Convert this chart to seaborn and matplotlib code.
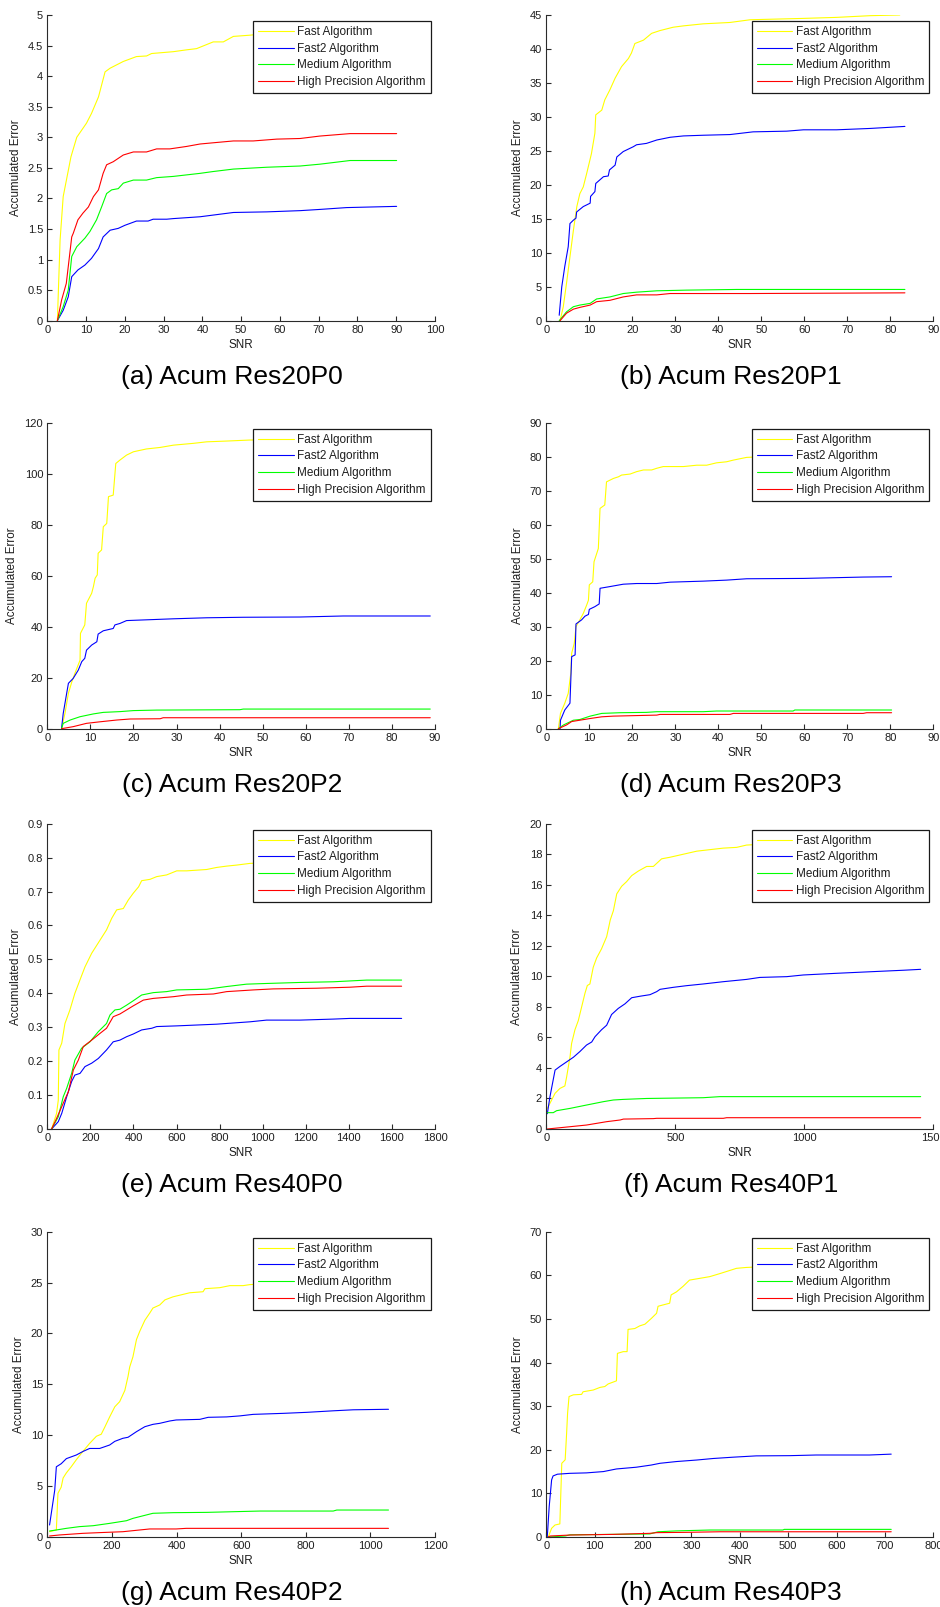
import matplotlib
matplotlib.use("Agg")
import matplotlib.pyplot as plt
import seaborn as sns

# ---------------------------------------------------------------- data
SERIES_NAMES = ["Fast Algorithm", "Fast2 Algorithm", "Medium Algorithm",
                "High Precision Algorithm"]
SERIES_COLORS = ["#ffff00", "#0000ff", "#00ff00", "#ff0000"]

CAPTIONS = ["(a) Acum Res20P0", "(b) Acum Res20P1", "(c) Acum Res20P2",
            "(d) Acum Res20P3", "(e) Acum Res40P0", "(f) Acum Res40P1",
            "(g) Acum Res40P2", "(h) Acum Res40P3"]

# (a) Res20P0
A_XTICKS = [0, 10, 20, 30, 40, 50, 60, 70, 80, 90, 100]
A_YTICKS = [0, 0.5, 1, 1.5, 2, 2.5, 3, 3.5, 4, 4.5, 5]
A_FAST_X = [2.6, 3.3, 4.1, 6.1, 7.6, 10.1, 11.4, 13.2, 14.9, 16.2, 19.6, 23.0, 25.6, 26.9,
            32.5, 35.9, 38.5, 42.8, 45.4, 48.0, 52.3, 60.0, 70.0, 80.0, 90.1]
A_FAST_Y = [0.0, 1.32, 2.03, 2.68, 3.0, 3.23, 3.39, 3.66, 4.07, 4.13, 4.24, 4.32, 4.33, 4.37,
            4.40, 4.43, 4.45, 4.56, 4.56, 4.65, 4.67, 4.72, 4.78, 4.84, 4.88]
A_FAST2_X = [2.6, 4.1, 5.4, 6.3, 7.9, 9.7, 11.4, 13.2, 14.4, 16.2, 18.3, 20.0, 23.0, 26.0,
             27.3, 30.8, 32.5, 39.4, 48.0, 56.6, 65.2, 70.3, 77.2, 90.1]
A_FAST2_Y = [0.0, 0.17, 0.39, 0.72, 0.83, 0.91, 1.02, 1.18, 1.37, 1.48, 1.51, 1.56, 1.63, 1.63,
             1.66, 1.66, 1.67, 1.70, 1.77, 1.78, 1.80, 1.82, 1.85, 1.87]
A_MED_X = [2.6, 4.1, 5.4, 6.3, 7.6, 9.7, 11.0, 12.7, 14.0, 15.3, 16.6, 18.3, 19.6, 22.2, 25.6,
           28.2, 32.5, 39.4, 42.8, 48.0, 56.6, 65.2, 70.3, 78.1, 90.1]
A_MED_Y = [0.0, 0.23, 0.5, 1.05, 1.21, 1.35, 1.46, 1.65, 1.86, 2.08, 2.14, 2.16, 2.25, 2.30, 2.30,
           2.34, 2.36, 2.41, 2.44, 2.48, 2.51, 2.53, 2.56, 2.62, 2.62]
A_HIGH_X = [2.6, 3.7, 4.9, 6.3, 6.7, 7.9, 9.2, 10.6, 11.9, 13.2, 14.4, 15.3, 17.0, 19.6, 22.2,
            25.6, 28.2, 31.6, 35.9, 39.4, 42.8, 48.0, 53.1, 59.2, 65.2, 70.3, 78.1, 90.1]
A_HIGH_Y = [0.0, 0.34, 0.61, 1.37, 1.43, 1.65, 1.76, 1.86, 2.03, 2.14, 2.41, 2.55, 2.60, 2.71,
            2.76, 2.76, 2.81, 2.81, 2.85, 2.89, 2.91, 2.94, 2.94, 2.97, 2.98, 3.02, 3.06, 3.06]

# (b) Res20P1
B_XTICKS = [0, 10, 20, 30, 40, 50, 60, 70, 80, 90]
B_YTICKS = [0, 5, 10, 15, 20, 25, 30, 35, 40, 45]
B_FAST_X = [3.2, 3.95, 4.7, 5.5, 6.3, 7.1, 7.8, 8.6, 9.4, 10.5, 11.3, 11.5, 12.9, 13.6, 14.8,
            16.0, 17.5, 19.1, 19.8, 20.6, 22.6, 24.5, 26.4, 29.5, 31.9, 36.5, 42.7, 47.4,
            59.8, 67.5, 75.3, 82.2]
B_FAST_Y = [0.0, 2.06, 5.5, 9.4, 13.3, 16.8, 18.7, 19.7, 21.7, 24.6, 27.6, 30.3, 31.0, 32.5,
            34.0, 35.7, 37.4, 38.6, 39.4, 40.8, 41.3, 42.3, 42.7, 43.2, 43.4, 43.7, 43.9, 44.3,
            44.5, 44.65, 44.9, 45.0]
B_FAST2_X = [3.0, 3.6, 4.3, 5.1, 5.5, 6.3, 6.9, 7.05, 8.6, 10.2, 10.3, 11.3, 11.5, 13.3, 14.4,
             14.7, 16.0, 16.4, 17.9, 20.2, 21.0, 23.3, 25.7, 28.8, 31.9, 36.5, 42.7, 48.1,
             55.9, 59.8, 67.5, 75.3, 83.4]
B_FAST2_Y = [0.8, 5.0, 8.0, 10.9, 14.3, 14.8, 15.1, 16.0, 16.8, 17.3, 18.3, 19.0, 20.2, 21.2,
             21.3, 22.2, 22.9, 24.1, 24.9, 25.6, 25.9, 26.1, 26.6, 27.0, 27.2, 27.3, 27.4, 27.8,
             27.9, 28.1, 28.1, 28.3, 28.6]
B_MED_X = [3.0, 4.7, 6.3, 7.8, 10.2, 11.7, 14.8, 17.9, 21.0, 25.7, 32.6, 44.3, 83.4]
B_MED_Y = [0.0, 1.3, 2.06, 2.3, 2.55, 3.2, 3.5, 4.0, 4.2, 4.4, 4.5, 4.6, 4.6]
B_HIGH_X = [3.2, 4.7, 6.3, 7.8, 10.2, 11.7, 14.8, 17.9, 21.0, 25.7, 28.8, 47.4, 83.4]
B_HIGH_Y = [0.0, 1.1, 1.7, 1.96, 2.3, 2.8, 3.0, 3.5, 3.8, 3.8, 4.0, 4.0, 4.1]

# (c) Res20P2
C_XTICKS = [0, 10, 20, 30, 40, 50, 60, 70, 80, 90]
C_YTICKS = [0, 20, 40, 60, 80, 100, 120]
C_FAST_X = [3.3, 4.1, 4.9, 5.7, 6.4, 7.6, 7.7, 8.7, 9.1, 10.3, 10.7, 11.1, 11.6, 11.8, 12.6,
            13.0, 13.8, 14.2, 15.3, 15.9, 16.9, 18.4, 20.0, 23.0, 26.2, 29.3, 33.9, 37.0,
            41.6, 47.0, 60.0, 75.0, 88.5]
C_FAST_Y = [0.0, 6.0, 13.9, 18.4, 21.7, 26.9, 37.4, 40.7, 49.2, 53.1, 55.7, 59.0, 60.3, 68.8,
            70.1, 79.2, 80.5, 91.0, 91.6, 104.0, 105.4, 107.3, 108.6, 109.7, 110.3, 111.2,
            111.9, 112.5, 112.8, 113.2, 113.5, 113.7, 113.8]
C_FAST2_X = [3.3, 3.7, 4.5, 4.9, 6.0, 7.2, 8.0, 8.7, 9.1, 10.3, 11.5, 11.8, 13.0, 15.3, 15.7,
             16.9, 18.4, 21.5, 29.3, 37.0, 45.5, 58.7, 68.7, 88.9]
C_FAST2_Y = [0.0, 6.0, 13.9, 17.8, 19.7, 23.0, 26.3, 27.6, 30.8, 32.8, 34.1, 37.1, 38.4, 39.3,
             40.7, 41.3, 42.4, 42.6, 43.1, 43.5, 43.7, 43.8, 44.2, 44.2]
C_MED_X = [3.3, 3.7, 5.3, 7.6, 10.7, 13.0, 16.9, 20.0, 25.4, 44.7, 45.5, 88.9]
C_MED_Y = [0.0, 2.1, 3.4, 4.7, 5.8, 6.4, 6.7, 7.1, 7.3, 7.45, 7.7, 7.7]
C_HIGH_X = [3.3, 6.0, 9.1, 12.2, 16.1, 19.2, 26.2, 26.9, 88.9]
C_HIGH_Y = [0.0, 0.8, 2.1, 2.7, 3.4, 3.8, 3.9, 4.3, 4.3]

# (d) Res20P3
D_XTICKS = [0, 10, 20, 30, 40, 50, 60, 70, 80, 90]
D_YTICKS = [0, 10, 20, 30, 40, 50, 60, 70, 80, 90]
D_FAST_X = [2.8, 3.3, 4.3, 5.1, 5.7, 5.9, 6.5, 6.9, 7.8, 8.6, 9.4, 9.8, 10.0, 10.8, 11.1,
            12.1, 12.5, 13.6, 14.0, 15.6, 16.8, 17.5, 19.5, 21.0, 22.6, 24.5, 25.7, 27.2,
            31.9, 35.0, 37.3, 39.6, 41.9, 43.5, 46.6, 60.0, 70.0, 80.3]
D_FAST_Y = [0.0, 4.5, 7.5, 10.4, 16.3, 22.2, 25.1, 30.0, 32.0, 33.9, 36.4, 37.8, 42.3, 43.2,
            49.1, 53.0, 64.8, 65.8, 72.6, 73.6, 74.1, 74.6, 74.9, 75.6, 76.1, 76.1, 76.6, 77.1,
            77.1, 77.5, 77.5, 78.2, 78.5, 79.0, 79.8, 80.5, 81.0, 81.4]
D_FAST2_X = [3.2, 3.3, 4.3, 5.5, 5.9, 6.7, 6.9, 8.2, 9.0, 9.8, 10.0, 11.3, 12.3, 12.5, 14.8,
             17.9, 21.0, 25.7, 28.8, 36.5, 41.9, 46.6, 59.8, 73.7, 80.3]
D_FAST2_Y = [0.0, 2.5, 5.5, 7.5, 21.2, 21.7, 30.8, 32.0, 33.1, 33.6, 35.1, 35.9, 36.7, 41.3,
             41.8, 42.5, 42.7, 42.7, 43.1, 43.4, 43.7, 44.1, 44.2, 44.6, 44.7]
D_MED_X = [2.8, 4.0, 6.3, 7.8, 10.2, 12.9, 17.1, 23.3, 25.7, 36.5, 39.6, 57.4, 57.8, 80.3]
D_MED_Y = [0.0, 1.1, 2.5, 2.7, 3.7, 4.5, 4.7, 4.8, 5.0, 5.0, 5.2, 5.2, 5.5, 5.5]
D_HIGH_X = [2.8, 4.7, 5.9, 7.8, 10.2, 12.9, 15.6, 25.7, 26.4, 42.7, 43.5, 73.7, 74.5, 80.3]
D_HIGH_Y = [0.0, 1.1, 2.1, 2.5, 3.0, 3.5, 3.7, 4.0, 4.2, 4.2, 4.5, 4.5, 4.7, 4.7]

# (e) Res40P0
E_XTICKS = [0, 200, 400, 600, 800, 1000, 1200, 1400, 1600, 1800]
E_YTICKS = [0, 0.1, 0.2, 0.3, 0.4, 0.5, 0.6, 0.7, 0.8, 0.9]
E_FAST_X = [20, 43, 51, 54, 67, 82, 105, 128, 152, 175, 206, 245, 275, 299, 322, 353, 376,
            399, 424, 438, 477, 508, 554, 601, 647, 740, 786, 833, 879, 941, 1200, 1450, 1645]
E_FAST_Y = [0.0, 0.046, 0.085, 0.233, 0.253, 0.311, 0.351, 0.40, 0.44, 0.478, 0.518, 0.557,
            0.587, 0.621, 0.646, 0.650, 0.675, 0.695, 0.714, 0.732, 0.736, 0.744, 0.749, 0.761,
            0.761, 0.765, 0.771, 0.775, 0.778, 0.783, 0.790, 0.796, 0.800]
E_FAST2_X = [20, 51, 67, 90, 113, 128, 152, 175, 206, 237, 275, 306, 337, 368, 399, 438, 485,
             508, 601, 786, 941, 1018, 1173, 1328, 1405, 1645]
E_FAST2_Y = [0.0, 0.0216, 0.046, 0.095, 0.14, 0.159, 0.164, 0.184, 0.194, 0.208, 0.233, 0.257,
             0.262, 0.272, 0.280, 0.292, 0.297, 0.302, 0.304, 0.309, 0.316, 0.321, 0.321, 0.324,
             0.326, 0.326]
E_MED_X = [20, 51, 74, 90, 113, 128, 159, 198, 237, 275, 291, 314, 337, 368, 399, 438, 492,
           554, 601, 740, 833, 925, 1018, 1173, 1328, 1483, 1645]
E_MED_Y = [0.0, 0.036, 0.095, 0.12, 0.164, 0.203, 0.238, 0.257, 0.287, 0.311, 0.336, 0.351,
           0.353, 0.365, 0.378, 0.395, 0.402, 0.405, 0.41, 0.412, 0.420, 0.427, 0.429, 0.432,
           0.434, 0.439, 0.439]
E_HIGH_X = [20, 43, 74, 98, 121, 144, 167, 206, 245, 275, 306, 337, 368, 399, 446, 492, 585,
            647, 771, 833, 957, 1049, 1250, 1405, 1483, 1645]
E_HIGH_Y = [0.0, 0.031, 0.076, 0.11, 0.174, 0.203, 0.243, 0.262, 0.282, 0.297, 0.331, 0.339,
            0.351, 0.363, 0.380, 0.385, 0.39, 0.395, 0.398, 0.405, 0.410, 0.413, 0.415, 0.418,
            0.421, 0.421]

# (f) Res40P1
F_XTICKS = [0, 500, 1000, 1500]
F_YTICKS = [0, 2, 4, 6, 8, 10, 12, 14, 16, 18, 20]
F_FAST_X = [4, 14, 34, 53, 72, 79, 92, 98, 111, 124, 137, 150, 159, 169, 182, 195, 214, 234,
            248, 260, 273, 292, 311, 331, 357, 389, 415, 447, 479, 531, 583, 634, 686, 738,
            776, 1000, 1250, 1450]
F_FAST_Y = [1.35, 1.68, 2.34, 2.66, 2.82, 3.43, 4.74, 5.6, 6.5, 7.1, 8.0, 8.9, 9.4, 9.5, 10.6,
            11.2, 11.8, 12.6, 13.7, 14.3, 15.4, 15.9, 16.2, 16.6, 16.9, 17.2, 17.2, 17.7, 17.8,
            18.0, 18.2, 18.3, 18.4, 18.45, 18.6, 18.8, 18.95, 19.0]
F_FAST2_X = [4, 14, 34, 53, 79, 105, 130, 156, 176, 189, 214, 234, 253, 279, 305, 331, 364,
             402, 428, 441, 492, 544, 608, 686, 776, 828, 932, 996, 1125, 1254, 1384, 1451]
F_FAST2_Y = [1.0, 2.1, 3.86, 4.1, 4.4, 4.7, 5.07, 5.5, 5.7, 6.05, 6.5, 6.8, 7.5, 7.9, 8.2, 8.6,
             8.7, 8.8, 9.0, 9.15, 9.28, 9.39, 9.5, 9.65, 9.8, 9.93, 9.98, 10.09, 10.2, 10.3,
             10.4, 10.46]
F_MED_X = [4, 27, 40, 92, 156, 221, 260, 299, 389, 608, 673, 1451]
F_MED_Y = [1.07, 1.07, 1.2, 1.35, 1.57, 1.79, 1.9, 1.94, 2.0, 2.05, 2.12, 2.12]
F_HIGH_X = [4, 92, 156, 234, 286, 299, 415, 428, 686, 699, 1451]
F_HIGH_Y = [0.0, 0.15, 0.26, 0.48, 0.59, 0.65, 0.68, 0.70, 0.70, 0.74, 0.74]

# (g) Res40P2
G_XTICKS = [0, 200, 400, 600, 800, 1000, 1200]
G_YTICKS = [0, 5, 10, 15, 20, 25, 30]
G_FAST_X = [7, 28, 33, 43, 49, 59, 74, 90, 110, 131, 152, 167, 178, 193, 209, 224, 240, 250,
            255, 265, 276, 286, 302, 317, 327, 348, 364, 389, 415, 441, 482, 488, 534, 565,
            606, 627, 800, 1055]
G_FAST_Y = [0.52, 0.69, 4.3, 4.9, 5.8, 6.3, 6.9, 7.6, 8.4, 9.2, 9.9, 10.1, 10.8, 11.8, 12.8,
            13.3, 14.4, 15.8, 16.7, 17.7, 19.4, 20.2, 21.3, 22.0, 22.5, 22.8, 23.3, 23.6, 23.8,
            24.0, 24.1, 24.4, 24.5, 24.7, 24.7, 24.8, 25.1, 25.5]
G_FAST2_X = [7, 23, 28, 43, 59, 90, 110, 131, 162, 193, 209, 234, 250, 276, 302, 327, 348, 379,
             399, 472, 498, 555, 596, 637, 730, 803, 885, 947, 1056]
G_FAST2_Y = [1.18, 4.6, 6.9, 7.2, 7.7, 8.06, 8.4, 8.7, 8.7, 9.04, 9.4, 9.7, 9.8, 10.35, 10.84,
             11.07, 11.17, 11.4, 11.5, 11.56, 11.76, 11.8, 11.9, 12.05, 12.15, 12.25, 12.4,
             12.5, 12.55]
G_MED_X = [7, 28, 59, 100, 142, 193, 245, 265, 286, 327, 389, 493, 658, 885, 896, 1056]
G_MED_Y = [0.59, 0.69, 0.85, 1.02, 1.11, 1.34, 1.6, 1.83, 2.0, 2.33, 2.39, 2.42, 2.55, 2.55,
           2.65, 2.65]
G_HIGH_X = [7, 38, 110, 162, 234, 286, 317, 399, 430, 1056]
G_HIGH_Y = [0.1, 0.2, 0.36, 0.43, 0.52, 0.69, 0.79, 0.79, 0.85, 0.85]

# (h) Res40P3
H_XTICKS = [0, 100, 200, 300, 400, 500, 600, 700, 800]
H_YTICKS = [0, 10, 20, 30, 40, 50, 60, 70]
H_FAST_X = [4, 11, 18, 28, 32, 39, 42, 44, 47, 56, 73, 76, 97, 111, 121, 128, 145, 147, 159,
            167, 169, 183, 193, 204, 217, 228, 231, 241, 255, 258, 269, 283, 296, 317, 338,
            359, 379, 393, 413, 550, 712]
H_FAST_Y = [0.0, 2.0, 2.75, 3.0, 16.9, 17.7, 23.8, 28.4, 32.2, 32.6, 32.7, 33.3, 33.7, 34.3,
            34.5, 35.1, 35.8, 42.1, 42.5, 42.5, 47.6, 47.8, 48.4, 48.8, 50.1, 51.3, 52.9, 53.2,
            53.6, 55.5, 56.2, 57.5, 58.9, 59.3, 59.7, 60.4, 61.1, 61.6, 61.8, 62.5, 63.0]
H_FAST2_X = [2, 6, 11, 14, 23, 49, 83, 118, 145, 186, 217, 235, 269, 311, 345, 386, 434, 503,
             558, 668, 713]
H_FAST2_Y = [0.0, 7.0, 13.1, 14.0, 14.4, 14.6, 14.7, 15.0, 15.6, 16.0, 16.5, 16.9, 17.3, 17.65,
             18.0, 18.3, 18.6, 18.65, 18.8, 18.8, 19.0]
H_MED_X = [4, 39, 49, 214, 231, 269, 338, 489, 492, 713]
H_MED_Y = [0.0, 0.23, 0.5, 0.7, 1.2, 1.4, 1.6, 1.6, 1.75, 1.75]
H_HIGH_X = [4, 8, 49, 138, 214, 228, 290, 359, 713]
H_HIGH_Y = [0.0, 0.23, 0.45, 0.6, 0.84, 1.0, 1.07, 1.2, 1.2]

# ---------------------------------------------------------------- layout (pixels)
FIG_W, FIG_H = 940, 1607
COL_LR = [(47.3, 435.0), (546.3, 933.3)]
ROW_TB = [(15.0, 320.7), (422.7, 728.7), (823.7, 1129.0), (1231.7, 1537.0)]
CAPTION_X = [232, 731]
CAPTION_DY = 56

PANELS = [
    (A_XTICKS, A_YTICKS, [(A_FAST_X, A_FAST_Y), (A_FAST2_X, A_FAST2_Y), (A_MED_X, A_MED_Y), (A_HIGH_X, A_HIGH_Y)]),
    (B_XTICKS, B_YTICKS, [(B_FAST_X, B_FAST_Y), (B_FAST2_X, B_FAST2_Y), (B_MED_X, B_MED_Y), (B_HIGH_X, B_HIGH_Y)]),
    (C_XTICKS, C_YTICKS, [(C_FAST_X, C_FAST_Y), (C_FAST2_X, C_FAST2_Y), (C_MED_X, C_MED_Y), (C_HIGH_X, C_HIGH_Y)]),
    (D_XTICKS, D_YTICKS, [(D_FAST_X, D_FAST_Y), (D_FAST2_X, D_FAST2_Y), (D_MED_X, D_MED_Y), (D_HIGH_X, D_HIGH_Y)]),
    (E_XTICKS, E_YTICKS, [(E_FAST_X, E_FAST_Y), (E_FAST2_X, E_FAST2_Y), (E_MED_X, E_MED_Y), (E_HIGH_X, E_HIGH_Y)]),
    (F_XTICKS, F_YTICKS, [(F_FAST_X, F_FAST_Y), (F_FAST2_X, F_FAST2_Y), (F_MED_X, F_MED_Y), (F_HIGH_X, F_HIGH_Y)]),
    (G_XTICKS, G_YTICKS, [(G_FAST_X, G_FAST_Y), (G_FAST2_X, G_FAST2_Y), (G_MED_X, G_MED_Y), (G_HIGH_X, G_HIGH_Y)]),
    (H_XTICKS, H_YTICKS, [(H_FAST_X, H_FAST_Y), (H_FAST2_X, H_FAST2_Y), (H_MED_X, H_MED_Y), (H_HIGH_X, H_HIGH_Y)]),
]

# ---------------------------------------------------------------- style
sns.set_theme(style="ticks")
plt.rcParams["font.family"] = ["Liberation Sans", "DejaVu Sans"]
AXIS_COLOR = "#2b2b2b"
TEXT_COLOR = "#1e1e1e"

fig = plt.figure(figsize=(FIG_W / 100, FIG_H / 100), dpi=100)
fig.patch.set_facecolor("white")


def fmt(v):
    return "%g" % v


for idx, (xticks, yticks, series) in enumerate(PANELS):
    row, col = divmod(idx, 2)
    left, right = COL_LR[col]
    top, bottom = ROW_TB[row]
    ax = fig.add_axes([left / FIG_W, 1 - bottom / FIG_H,
                       (right - left) / FIG_W, (bottom - top) / FIG_H])

    for name, color, (xs, ys) in zip(SERIES_NAMES, SERIES_COLORS, series):
        sns.lineplot(x=xs, y=ys, ax=ax, color=color, linewidth=0.8, label=name,
                     estimator=None, sort=False)

    ax.set_xlim(xticks[0], xticks[-1])
    ax.set_ylim(yticks[0], yticks[-1])
    ax.set_xticks(xticks)
    ax.set_xticklabels([fmt(v) for v in xticks])
    ax.set_yticks(yticks)
    ax.set_yticklabels([fmt(v) for v in yticks])

    for side in ("top", "right"):
        ax.spines[side].set_visible(False)
    for side in ("left", "bottom"):
        ax.spines[side].set_color(AXIS_COLOR)
        ax.spines[side].set_linewidth(0.8)

    ax.tick_params(axis="both", direction="in", length=3.5, width=0.8,
                   color=AXIS_COLOR, labelcolor=TEXT_COLOR, labelsize=8.0, pad=3,
                   bottom=True, left=True, top=False, right=False)

    ax.set_xlabel("SNR", fontsize=8.4, color=TEXT_COLOR, labelpad=3)
    ax.set_ylabel("Accumulated Error", fontsize=8.4, color=TEXT_COLOR, labelpad=4.5)

    w_px = right - left
    h_px = bottom - top
    leg = ax.legend(loc="upper right",
                    bbox_to_anchor=(1 - 4.3 / w_px, 1 - 6.0 / h_px),
                    borderaxespad=0, frameon=True, fancybox=False, framealpha=1,
                    edgecolor="#1a1a1a", fontsize=8.5, handlelength=3.0,
                    handletextpad=0.3, labelspacing=0.40, borderpad=0.42)
    leg.get_frame().set_linewidth(0.9)
    for t in leg.get_texts():
        t.set_color(TEXT_COLOR)

    fig.text(CAPTION_X[col] / FIG_W, 1 - (bottom + CAPTION_DY) / FIG_H,
             CAPTIONS[idx], ha="center", va="center", fontsize=19, color="black")

fig.savefig("out.png", dpi=100, facecolor="white")
